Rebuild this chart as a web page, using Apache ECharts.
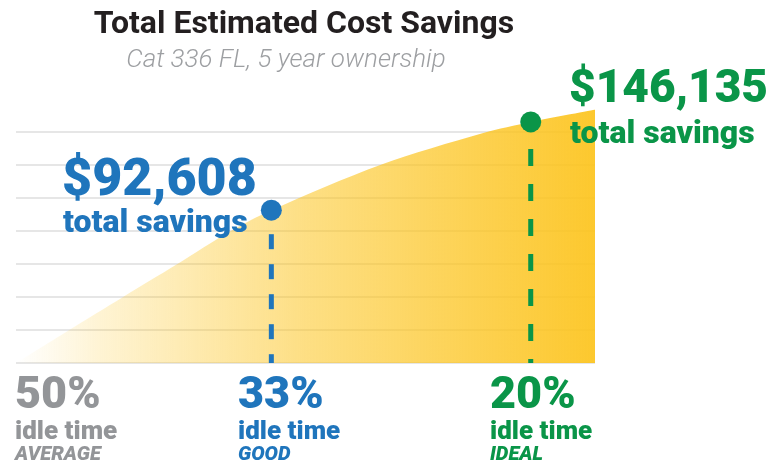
<!DOCTYPE html>
<html>
<head>
<meta charset="utf-8">
<script src="https://cdn.jsdelivr.net/npm/echarts@6/dist/echarts.min.js"></script>
<style>
  html, body { margin: 0; padding: 0; background: #fff; }
  #chart { width: 781px; height: 464px; }
</style>
</head>
<body>
<div id="chart"></div>
<script>
// curve: position along the x axis (0-100) and savings ($)
const curveX = [0, 9, 18.5, 27.8, 37, 44.1, 62.9, 80.7, 88.9, 100];
const curveY = [0, 19600, 40000, 59800, 79800, 92608, 120000, 139400, 146135, 153500];

// highlighted points
const markerX = [44.1, 88.9];
const markerValues = [92608, 146135];
const markerColors = ["#1f75bc", "#0a9548"];

// bottom labels
const idleLabels = ["50%", "33%", "20%"];
const ratingLabels = ["AVERAGE", "GOOD", "IDEAL"];
const idleColors = ["#939598", "#1f75bc", "#0a9548"];
const idleLeft = [15, 238, 490];

const FONT = "Roboto";
const myChart = echarts.init(document.getElementById("chart"));

const money = (v) => "$" + v.toLocaleString("en-US");

const graphics = [
  {
    type: "text",
    z: 100,
    style: {
      text: "Total Estimated Cost Savings",
      x: 304, y: 25,
      fill: "#231f20",
      font: "bold 32px " + FONT,
      align: "center",
      verticalAlign: "middle",
    },
  },
  {
    type: "text",
    z: 100,
    style: {
      text: "Cat 336 FL, 5 year ownership",
      x: 286, y: 60,
      fill: "#9d9fa2",
      font: "italic 300 26px " + FONT,
      align: "center",
      verticalAlign: "middle",
    },
  },
  // value call-outs
  {
    type: "text",
    z: 100,
    style: {
      text: money(markerValues[0]),
      x: 62, y: 182,
      fill: markerColors[0],
      font: "900 52px " + FONT,
      verticalAlign: "middle",
    },
  },
  {
    type: "text",
    z: 100,
    style: {
      text: "total savings",
      x: 63, y: 224,
      fill: markerColors[0],
      font: "900 32px " + FONT,
      verticalAlign: "middle",
    },
  },
  {
    type: "text",
    z: 100,
    style: {
      text: money(markerValues[1]),
      x: 569, y: 90,
      fill: markerColors[1],
      font: "900 46px " + FONT,
      verticalAlign: "middle",
    },
  },
  {
    type: "text",
    z: 100,
    style: {
      text: "total savings",
      x: 570, y: 135,
      fill: markerColors[1],
      font: "900 32px " + FONT,
      verticalAlign: "middle",
    },
  },
];

idleLabels.forEach((lab, i) => {
  graphics.push(
    {
      type: "text",
      z: 100,
      style: {
        text: lab, x: idleLeft[i], y: 397,
        fill: idleColors[i], font: "900 45px " + FONT, verticalAlign: "middle",
      },
    },
    {
      type: "text",
      z: 100,
      style: {
        text: "idle time", x: idleLeft[i], y: 432,
        fill: idleColors[i], font: "900 26px " + FONT, verticalAlign: "middle",
      },
    },
    {
      type: "text",
      z: 100,
      style: {
        text: ratingLabels[i], x: idleLeft[i], y: 454.5,
        fill: idleColors[i], font: "italic 900 20px " + FONT, verticalAlign: "middle",
      },
    }
  );
});

myChart.setOption({
  animation: false,
  grid: { left: 16, right: 186, top: 132, bottom: 101 },
  xAxis: {
    type: "value",
    min: 0,
    max: 100,
    show: false,
  },
  yAxis: {
    type: "value",
    min: 0,
    max: 140000,
    interval: 20000,
    axisLine: { show: false },
    axisTick: { show: false },
    axisLabel: { show: false },
    splitLine: { lineStyle: { color: "#e6e6e6", width: 2 } },
  },
  graphic: graphics,
  series: [
    {
      type: "line",
      data: curveX.map((x, i) => [x, curveY[i]]),
      smooth: 0.3,
      clip: false,
      symbol: "none",
      lineStyle: { width: 0 },
      areaStyle: {
        opacity: 1,
        color: new echarts.graphic.LinearGradient(0, 0, 1, 0, [
          { offset: 0, color: "rgba(252,196,30,0)" },
          { offset: 0.15, color: "rgba(252,196,30,0.2)" },
          { offset: 0.5, color: "rgba(252,196,30,0.55)" },
          { offset: 1, color: "rgba(252,196,30,0.93)" },
        ]),
      },
      z: 1,
    },
    {
      type: "line",
      data: [[markerX[0], markerValues[0]], [markerX[0], 0]],
      symbol: "none",
      clip: false,
      lineStyle: { color: markerColors[0], width: 5, type: [15, 15], dashOffset: 6 },
      z: 2,
    },
    {
      type: "line",
      data: [[markerX[1], markerValues[1]], [markerX[1], 0]],
      symbol: "none",
      clip: false,
      lineStyle: { color: markerColors[1], width: 5, type: [17, 18], dashOffset: 8 },
      z: 2,
    },
    {
      type: "scatter",
      symbolSize: 21,
      clip: false,
      data: markerX.map((x, i) => ({
        value: [x, markerValues[i]],
        itemStyle: { color: markerColors[i], opacity: 1 },
      })),
      z: 3,
    },
  ],
});
</script>
</body>
</html>
